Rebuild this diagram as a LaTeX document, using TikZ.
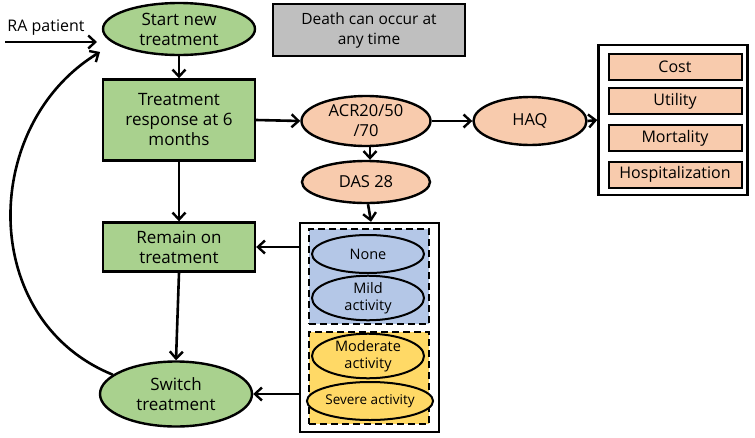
\documentclass[tikz,border=0pt]{standalone}
\usepackage{fontspec}
\setmainfont{Open Sans}
\usetikzlibrary{shapes.geometric,arrows.meta}
\definecolor{cgreen}{HTML}{A9D18E}
\definecolor{csalmon}{HTML}{F8CBAD}
\definecolor{cgray}{HTML}{BFBFBF}
\definecolor{cblue}{HTML}{B4C7E7}
\definecolor{cyellow}{HTML}{FFD966}
\tikzset{
  base/.style={draw=black, line width=2.4pt, align=center, inner sep=0pt, font=\fontsize{17}{20}\selectfont},
  gbox/.style={base, rectangle, fill=cgreen},
  gell/.style={base, ellipse, fill=cgreen},
  sell/.style={base, ellipse, fill=csalmon, font=\fontsize{16.5}{20}\selectfont},
  sbox/.style={base, rectangle, fill=csalmon, minimum width=133pt, minimum height=26pt, line width=2pt, font=\fontsize{16}{20}\selectfont},
  aell/.style={base, ellipse, minimum width=112pt, minimum height=38pt, line width=2pt, font=\fontsize{14.5}{17}\selectfont},
  frame/.style={draw=black, line width=2.4pt, fill=white},
  dbox/.style={draw=black, line width=2.4pt, dash pattern=on 7pt off 4pt},
  arr/.style={-{Straight Barb[length=7pt,width=13pt,line width=2.4pt]}, line width=2.6pt},
}
\begin{document}
\begin{tikzpicture}[x=1pt,y=-1pt]
\useasboundingbox (0,0) rectangle (755,437);
% left column
\node[gell, minimum width=152pt, minimum height=52pt] (start) at (179,29) {Start new\\treatment};
\node[gbox, minimum width=152pt, minimum height=81pt] (resp) at (179,120) {Treatment\\response at 6\\months};
\node[gbox, minimum width=152pt, minimum height=49pt] (remain) at (179,247) {Remain on\\treatment};
\node[gell, minimum width=152pt, minimum height=65pt] (switch) at (176,394) {Switch\\treatment};
% death
\node[base, rectangle, fill=cgray, minimum width=192pt, minimum height=52pt, font=\fontsize{15.5}{20}\selectfont] (death) at (369,30) {Death can occur at\\any time};
% salmon ellipses
\node[sell, minimum width=129pt, minimum height=50pt] (acr) at (366,121) {ACR20/50\\/70};
\node[sell, minimum width=113pt, minimum height=48pt] (haq) at (530,121) {HAQ};
\node[sell, minimum width=128pt, minimum height=42pt] (das) at (366,182) {DAS 28};
% outcomes box
\node[frame, minimum width=149pt, minimum height=150pt, inner sep=0pt] (out) at (673,120) {};
\node[sbox] (cost) at (675,66.5) {Cost};
\node[sbox] (util) at (675,101) {Utility};
\node[sbox] (mort) at (675,138) {Mortality};
\node[sbox] (hosp) at (675,174.5) {Hospitalization};
% activity box
\node[frame, minimum width=139pt, minimum height=209pt, inner sep=0pt] (act) at (369.5,327.5) {};
\node[dbox, fill=cblue, minimum width=120pt, minimum height=95pt, inner sep=0pt] (blue) at (369,276.5) {};
\node[dbox, fill=cyellow, minimum width=120pt, minimum height=92pt, inner sep=0pt] (yellow) at (369,378) {};
\node[aell, fill=cblue] (none) at (368,254) {None};
\node[aell, fill=cblue] (mild) at (368,298) {Mild\\activity};
\node[aell, fill=cyellow] (mod) at (368,356) {Moderate\\activity};
\node[aell, fill=cyellow, minimum width=114pt, font=\fontsize{13.5}{17}\selectfont] (sev) at (370,401) {Severe activity};
% RA patient
\node[font=\fontsize{16}{18}\selectfont, inner sep=0pt] (ra) at (46,28) {RA patient};
\coordinate (raL) at (5,42);
\coordinate (raR) at (97,42);
\draw[arr] (raL) -- (raR);
% connectors
\draw[arr] (start.south) -- (resp.north);
\draw[arr] (resp.south) -- (remain.north);
\draw[arr] (remain.south) -- (switch.north);
\draw[arr] (resp.east) -- (acr.west);
\draw[arr] (acr.east) -- (haq.west);
\draw[arr] (haq.east) -- (out.west);
\draw[arr] ([xshift=4pt]acr.south) -- ([xshift=4pt]das.north);
\draw[arr] ([xshift=2pt]das.south) -- ([xshift=1.5pt]act.north);
\draw[arr] (act.west |- remain.east) -- (remain.east);
\draw[arr] (act.west |- switch.east) -- (switch.east);
\coordinate (loopend) at (100,52);
\draw[arr] (switch.163) .. controls (-22,320) and (-20,125) .. (loopend);
\end{tikzpicture}
\end{document}
